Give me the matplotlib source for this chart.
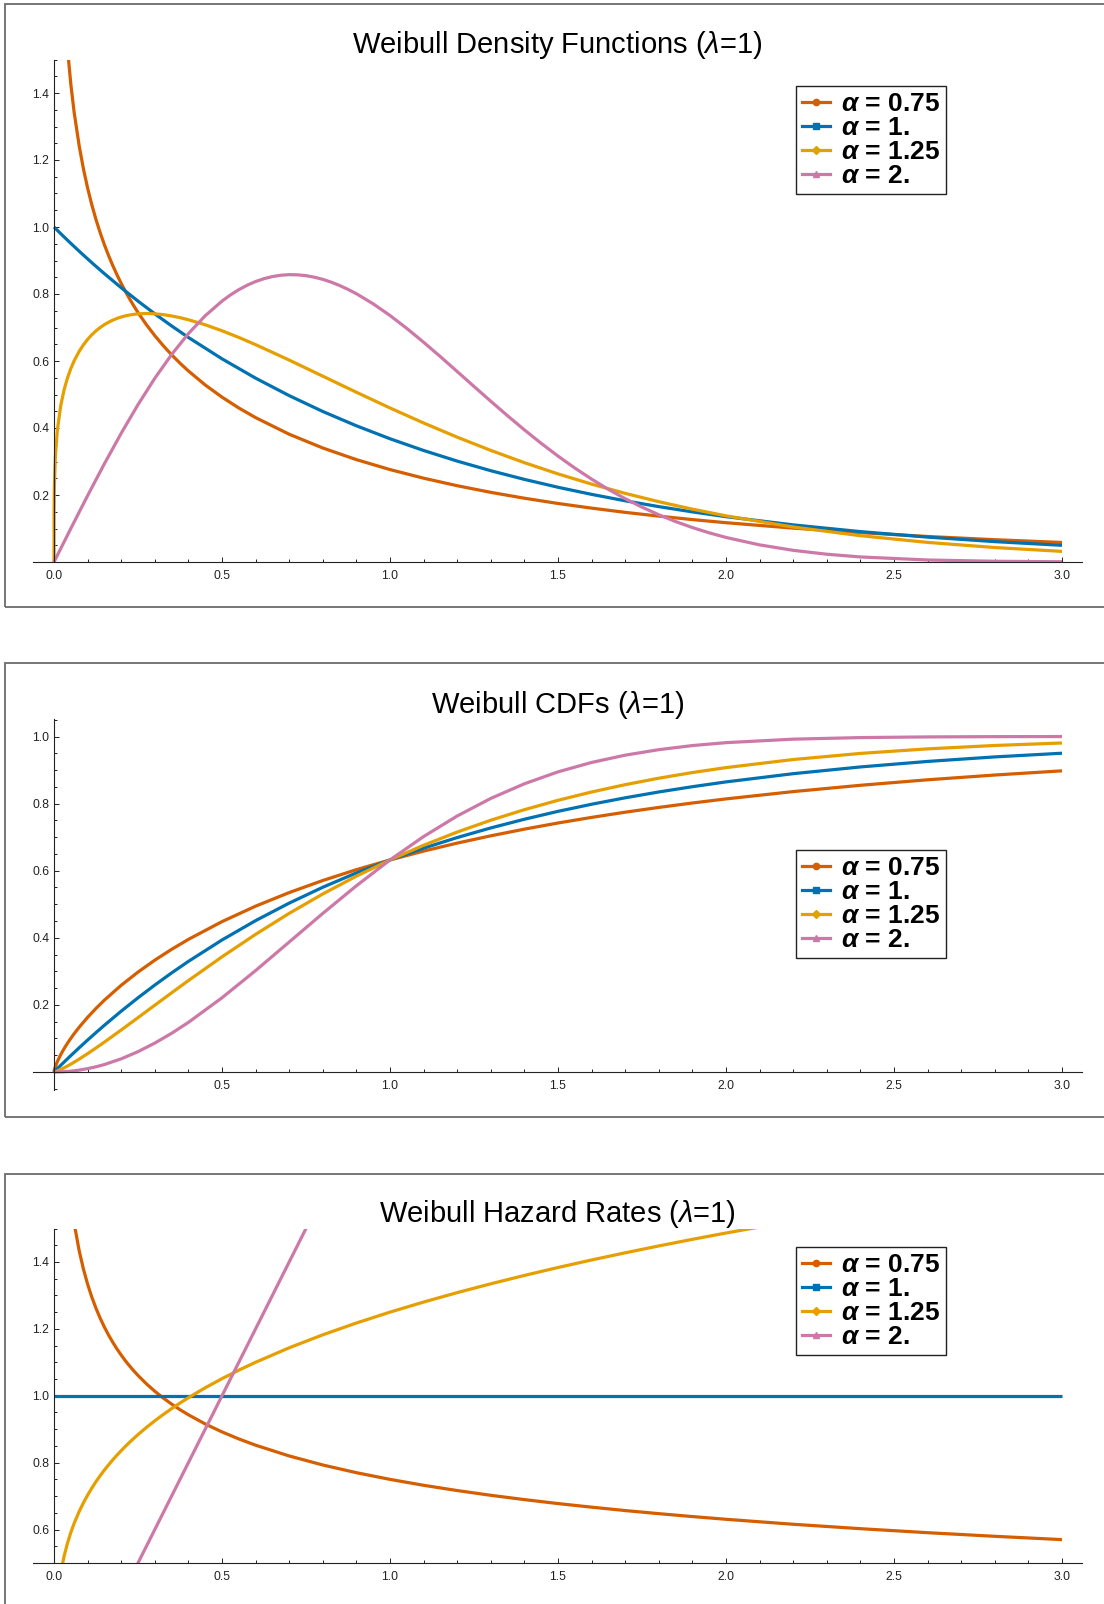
import numpy as np
import matplotlib
matplotlib.use("Agg")
import matplotlib.pyplot as plt
from matplotlib.lines import Line2D
from matplotlib.patches import Rectangle
from matplotlib.ticker import FixedLocator, MultipleLocator

plt.rcParams['font.family'] = ['Liberation Sans', 'DejaVu Sans']
plt.rcParams['mathtext.fontset'] = 'custom'
plt.rcParams['mathtext.rm'] = 'Liberation Sans'
plt.rcParams['mathtext.it'] = 'Liberation Sans:italic'
plt.rcParams['mathtext.bf'] = 'Liberation Sans:bold'
plt.rcParams['mathtext.bfit'] = 'Liberation Sans:italic:bold'

nan = np.nan

# sample positions, coarse grid (blue density and all CDFs)
X = [0, 0.0002, 0.001, 0.004, 0.01, 0.02, 0.03, 0.04, 0.05, 0.06,
     0.075, 0.1, 0.125, 0.15, 0.2, 0.25, 0.3, 0.35, 0.4, 0.5,
     0.6, 0.7, 0.8, 0.9, 1.0, 1.1, 1.2, 1.3, 1.4, 1.5,
     1.6, 1.7, 1.8, 1.9, 2.0, 2.2, 2.4, 2.6, 2.8, 3.0]

# finer near zero (alpha 0.75 / 1.25 densities and hazards)
X_A = [0, 0.0002, 0.001, 0.004, 0.01, 0.02, 0.03, 0.04, 0.05, 0.06,
       0.075, 0.0875, 0.1, 0.1125, 0.125, 0.1375, 0.15, 0.1625, 0.175, 0.1875,
       0.2, 0.2125, 0.225, 0.2375, 0.25, 0.275, 0.3, 0.325, 0.35, 0.375,
       0.4, 0.45, 0.5, 0.55, 0.6, 0.7, 0.8, 0.9, 1.0, 1.1,
       1.2, 1.3, 1.4, 1.5, 1.6, 1.7, 1.8, 1.9, 2.0, 2.2,
       2.4, 2.6, 2.8, 3.0]

# finer around the hump (alpha 2 density)
X_B = [0, 0.05, 0.1, 0.15, 0.2, 0.25, 0.3, 0.35, 0.4, 0.45, 0.5,
       0.525, 0.55, 0.575, 0.6, 0.625, 0.65, 0.675, 0.7, 0.725, 0.75,
       0.775, 0.8, 0.825, 0.85, 0.875, 0.9,
       0.95, 1.0, 1.05, 1.1, 1.15, 1.2, 1.25, 1.3, 1.35, 1.4, 1.45,
       1.5, 1.55, 1.6, 1.65, 1.7, 1.75, 1.8, 1.85, 1.9, 1.95, 2.0,
       2.1, 2.2, 2.3, 2.4, 2.6, 2.8, 3.0]

# density values, top panel
PDF_075 = [nan, 6.296, 4.194, 2.935, 2.298, 1.891, 1.677, 1.534, 1.427, 1.342,
           1.2418, 1.1741, 1.1164, 1.0664, 1.0222, 0.9827, 0.9470, 0.9145, 0.8847, 0.8572,
           0.8316, 0.8078, 0.7855, 0.7645, 0.7448, 0.7084, 0.6757, 0.6459, 0.6186, 0.5935,
           0.5703, 0.5285, 0.4921, 0.4598, 0.4310, 0.3814, 0.3403, 0.3056, 0.2759, 0.2502,
           0.2277, 0.2079, 0.1904, 0.1747, 0.1608, 0.1482, 0.1369, 0.1266, 0.1173, 0.1011,
           0.0876, 0.0762, 0.0666, 0.0583]
PDF_1 = [1.0, 0.9998, 0.9990, 0.9960, 0.9900, 0.9802, 0.9704, 0.9608, 0.9512, 0.9418,
         0.9277, 0.9048, 0.8825, 0.8607, 0.8187, 0.7788, 0.7408, 0.7047, 0.6703, 0.6065,
         0.5488, 0.4966, 0.4493, 0.4066, 0.3679, 0.3329, 0.3012, 0.2725, 0.2466, 0.2231,
         0.2019, 0.1827, 0.1653, 0.1496, 0.1353, 0.1108, 0.0907, 0.0743, 0.0608, 0.0498]
PDF_125 = [0, 0.1486, 0.2222, 0.3140, 0.3940, 0.4666, 0.5138, 0.5491, 0.5773, 0.6006,
           0.6290, 0.6482, 0.6645, 0.6783, 0.6900, 0.7000, 0.7086, 0.7158, 0.7220, 0.7271,
           0.7313, 0.7347, 0.7373, 0.7393, 0.7407, 0.7418, 0.7409, 0.7384, 0.7345, 0.7294,
           0.7232, 0.7082, 0.6903, 0.6704, 0.6488, 0.6027, 0.5547, 0.5067, 0.4598, 0.4150,
           0.3726, 0.3331, 0.2965, 0.2630, 0.2325, 0.2049, 0.1800, 0.1577, 0.1378, 0.1044,
           0.0785, 0.0585, 0.0432, 0.0317]
PDF_2 = [0, 0.0998, 0.1980, 0.2933, 0.3843, 0.4697, 0.5484, 0.6193, 0.6817, 0.7350, 0.7788,
         0.7971, 0.8129, 0.8263, 0.8372, 0.8458, 0.8520, 0.8560, 0.8577, 0.8572, 0.8547,
         0.8501, 0.8437, 0.8354, 0.8254, 0.8138, 0.8008,
         0.7706, 0.7358, 0.6973, 0.6560, 0.6129, 0.5686, 0.5240, 0.4798, 0.4364, 0.3944, 0.3542,
         0.3162, 0.2805, 0.2474, 0.2168, 0.1890, 0.1637, 0.1410, 0.1207, 0.1028, 0.0871, 0.0733,
         0.0511, 0.0348, 0.0232, 0.0151, 0.0060, 0.0022, 0.0007]

# cumulative values, middle panel
CDF_075 = [0, 0.0017, 0.0056, 0.0158, 0.0311, 0.0518, 0.0696, 0.0856, 0.1003, 0.1142,
           0.1335, 0.1629, 0.1896, 0.2142, 0.2585, 0.2978, 0.3333, 0.3656, 0.3953, 0.4482,
           0.4943, 0.5348, 0.5708, 0.6031, 0.6321, 0.6584, 0.6823, 0.7040, 0.7239, 0.7422,
           0.7589, 0.7744, 0.7886, 0.8018, 0.8140, 0.8358, 0.8546, 0.8710, 0.8852, 0.8977]
CDF_1 = [0, 0.0002, 0.0010, 0.0040, 0.0100, 0.0198, 0.0296, 0.0392, 0.0488, 0.0582,
         0.0723, 0.0952, 0.1175, 0.1393, 0.1813, 0.2212, 0.2592, 0.2953, 0.3297, 0.3935,
         0.4512, 0.5034, 0.5507, 0.5934, 0.6321, 0.6671, 0.6988, 0.7275, 0.7534, 0.7769,
         0.7981, 0.8173, 0.8347, 0.8504, 0.8647, 0.8892, 0.9093, 0.9257, 0.9392, 0.9502]
CDF_125 = [0, 0.0000, 0.0002, 0.0010, 0.0032, 0.0075, 0.0124, 0.0177, 0.0234, 0.0293,
           0.0385, 0.0547, 0.0716, 0.0891, 0.1252, 0.1620, 0.1991, 0.2360, 0.2725, 0.3433,
           0.4103, 0.4729, 0.5307, 0.5838, 0.6321, 0.6758, 0.7152, 0.7505, 0.7819, 0.8099,
           0.8346, 0.8565, 0.8757, 0.8926, 0.9073, 0.9314, 0.9496, 0.9632, 0.9733, 0.9807]
CDF_2 = [0, 0.0000, 0.0000, 0.0000, 0.0001, 0.0004, 0.0009, 0.0016, 0.0025, 0.0036,
         0.0056, 0.0100, 0.0155, 0.0222, 0.0392, 0.0606, 0.0861, 0.1153, 0.1479, 0.2212,
         0.3023, 0.3874, 0.4727, 0.5551, 0.6321, 0.7018, 0.7631, 0.8155, 0.8591, 0.8946,
         0.9227, 0.9444, 0.9608, 0.9730, 0.9817, 0.9921, 0.9968, 0.9988, 0.9996, 0.9999]

# hazard rates, bottom panel
HAZ_075 = [nan, 6.307, 4.218, 2.982, 2.372, 1.994, 1.802, 1.677, 1.586, 1.5154,
           1.4332, 1.3790, 1.3337, 1.2950, 1.2614, 1.2317, 1.2052, 1.1813, 1.1596, 1.1398,
           1.1215, 1.1046, 1.0890, 1.0744, 1.0607, 1.0357, 1.0134, 0.9933, 0.9751, 0.9584,
           0.9431, 0.9157, 0.8919, 0.8709, 0.8522, 0.8200, 0.7930, 0.7700, 0.7500, 0.7323,
           0.7166, 0.7024, 0.6895, 0.6777, 0.6669, 0.6568, 0.6475, 0.6388, 0.6307, 0.6158,
           0.6026, 0.5906, 0.5798, 0.5699]
HAZ_125 = [0, 0.1487, 0.2223, 0.3144, 0.3953, 0.4701, 0.5202, 0.5590, 0.5911, 0.6187,
           0.6542, 0.6798, 0.7029, 0.7239, 0.7433, 0.7612, 0.7779, 0.7936, 0.8085, 0.8226,
           0.8359, 0.8487, 0.8609, 0.8726, 0.8839, 0.9052, 0.9251, 0.9438, 0.9615, 0.9782,
           0.9941, 1.0238, 1.0511, 1.0765, 1.1001, 1.1434, 1.1822, 1.2175, 1.2500, 1.2801,
           1.3083, 1.3347, 1.3597, 1.3834, 1.4059, 1.4273, 1.4479, 1.4676, 1.4865, 1.5224,
           1.5558, 1.5873, 1.6170, 1.6451]
X_LINE = [0.0, 3.0]
HAZ_1 = [1.0, 1.0]
HAZ_2 = [0.0, 6.0]

ALPHAS = ['0.75', '1.', '1.25', '2.']
COLORS = ['#D55E00', '#0072B2', '#E69F00', '#CC79A7']
MARKERS = ['o', 's', 'D', '^']
X_TICKS = [0.0, 0.5, 1.0, 1.5, 2.0, 2.5, 3.0]

W, H = 1104, 1604
fig = plt.figure(figsize=(W / 100, H / 100), dpi=100)


def px_rect(left, top, right, bottom):
    """pixel box (from top-left) -> figure fraction rect"""
    return [left / W, 1 - bottom / H, (right - left) / W, (bottom - top) / H]


# gray frames around each panel
for top, bottom in [(4.5, 607), (663, 1117), (1174, 1640)]:
    l, b, w, h = px_rect(5, top, 1140, bottom)
    fig.patches.append(Rectangle((l, b), w, h, transform=fig.transFigure,
                                 fill=False, edgecolor='#6b6b6b', lw=1.3))


def panel(top, bottom, ylim, yticks, title, curves, legend_top, xs_list, hide_x0=False, cross_zero=False):
    ax = fig.add_axes(px_rect(33, top, 1082, bottom))
    ax.set_xlim(-0.0625, 3.0595)
    ax.set_ylim(*ylim)
    for xs, ys, c in zip(xs_list, curves, COLORS):
        ax.plot(xs, ys, color=c, lw=2.3, solid_capstyle='butt', solid_joinstyle='round')

    for s in ['top', 'right']:
        ax.spines[s].set_visible(False)
    ax.spines['left'].set_position(('data', 0))
    if cross_zero:
        ax.spines['bottom'].set_position(('data', 0))
    for s in ['left', 'bottom']:
        ax.spines[s].set_linewidth(0.8)
        ax.spines[s].set_color('#222222')

    ax.xaxis.set_major_locator(FixedLocator(X_TICKS))
    ax.set_xticklabels(['' if (hide_x0 and t == 0) else '%.1f' % t for t in X_TICKS])
    ax.xaxis.set_minor_locator(MultipleLocator(0.1))
    ax.yaxis.set_major_locator(FixedLocator(yticks))
    ax.set_yticklabels(['%.1f' % t for t in yticks])
    ax.yaxis.set_minor_locator(MultipleLocator(0.05))
    ax.tick_params(which='both', direction='in', color='#222222', width=0.7,
                   labelsize=8.7, labelcolor='#222222')
    ax.tick_params(which='major', length=3.6)
    ax.tick_params(which='minor', length=2.3)
    ax.tick_params(axis='x', pad=6)
    ax.tick_params(axis='y', pad=3.6)

    ax.annotate(title, xy=(0.5, 1), xycoords='axes fraction', xytext=(0, 10.4),
                textcoords='offset points', ha='center', va='center', fontsize=21)

    handles = [Line2D([], [], color=c, lw=2.3, marker=m, markersize=4.5)
               for c, m in zip(COLORS, MARKERS)]
    labels = [r'$\mathbfit{\alpha}$ = ' + a for a in ALPHAS]
    leg = ax.legend(handles, labels, loc='upper left',
                    bbox_to_anchor=(0.7274, (bottom - legend_top) / (bottom - top)),
                    borderaxespad=0, frameon=True, fancybox=False, framealpha=1,
                    edgecolor='#222222', facecolor='white', handlelength=1.07,
                    handletextpad=0.42, borderpad=0.22, labelspacing=0.0,
                    prop={'weight': 'bold', 'size': 19})
    leg.get_frame().set_linewidth(1.0)
    return ax


panel(59.5, 562, (0, 1.5), [0.2, 0.4, 0.6, 0.8, 1.0, 1.2, 1.4],
      'Weibull Density Functions ($\\lambda$=1)',
      [PDF_075, PDF_1, PDF_125, PDF_2], 86, [X_A, X, X_A, X_B])

panel(719, 1090, (-0.0537, 1.0522), [0.2, 0.4, 0.6, 0.8, 1.0],
      'Weibull CDFs ($\\lambda$=1)',
      [CDF_075, CDF_1, CDF_125, CDF_2], 850, [X, X, X, X],
      hide_x0=True, cross_zero=True)

panel(1228.5, 1563, (0.5, 1.5), [0.6, 0.8, 1.0, 1.2, 1.4],
      'Weibull Hazard Rates ($\\lambda$=1)',
      [HAZ_075, HAZ_1, HAZ_125, HAZ_2], 1247, [X_A, X_LINE, X_A, X_LINE])

fig.savefig('out.png', dpi=100)
